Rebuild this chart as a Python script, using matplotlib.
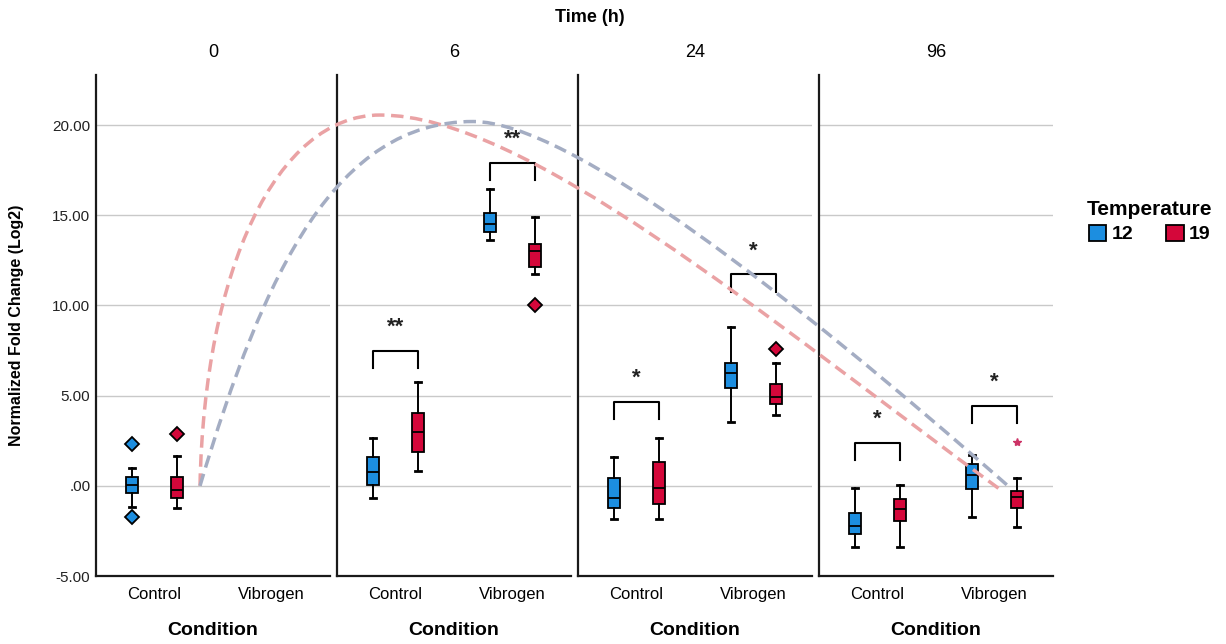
import matplotlib
matplotlib.use("Agg")
import matplotlib.pyplot as plt
from matplotlib.patches import Patch, PathPatch
from matplotlib.path import Path

plt.rcParams['font.family'] = ['Liberation Sans', 'DejaVu Sans']

# categories
times = ['0', '6', '24', '96']
conditions = ['Control', 'Vibrogen']
temps = ['12', '19']
colors = {'12': '#1c8ee0', '19': '#d4073a'}

# box stats, order: (0,Control) (0,Vibrogen) (6,Control) (6,Vibrogen) (24,...) (96,...)
# None = no data for that group
whislo_12 = [-1.17, None, -0.67, 13.61, -1.83, 3.56, -3.40, -1.72]
q1_12 = [-0.39, None, 0.06, 14.06, -1.22, 5.44, -2.67, -0.17]
med_12 = [0.05, None, 0.78, 14.50, -0.67, 6.28, -2.22, 0.61]
q3_12 = [0.50, None, 1.61, 15.11, 0.44, 6.83, -1.50, 1.22]
whishi_12 = [1.00, None, 2.67, 16.44, 1.61, 8.78, -0.11, 1.72]
fliers_12 = [[2.33, -1.72], [], [], [], [], [], [], []]

whislo_19 = [-1.22, None, 0.83, 11.72, -1.83, 3.94, -3.40, -2.28]
q1_19 = [-0.67, None, 1.89, 12.11, -1.00, 4.56, -1.94, -1.22]
med_19 = [-0.22, None, 3.00, 13.00, -0.11, 4.94, -1.28, -0.61]
q3_19 = [0.50, None, 4.06, 13.39, 1.33, 5.67, -0.72, -0.28]
whishi_19 = [1.67, None, 5.78, 14.89, 2.67, 6.83, 0.06, 0.44]
fliers_19 = [[2.89], [], [], [10.0], [], [7.61], [], []]
extremes_19 = [[], [], [], [], [], [], [], [2.44]]

# significance brackets: (time index, condition index, bracket top, label)
sig_time = [1, 1, 2, 2, 3, 3]
sig_cond = [0, 1, 0, 1, 0, 1]
sig_top = [7.5, 17.9, 4.67, 11.72, 2.39, 4.44]
sig_label = ['**', '**', '*', '*', '*', '*']

# hand-drawn trend curves as two cubic bezier pieces each
# (x in panel units 0..4, y in log2 fold change)
curve_red_x = [0.432, 0.45, 0.75, 1.18, 1.78, 2.763, 3.763]
curve_red_y = [0.0, 12.0, 20.56, 20.56, 20.56, 9.52, -0.28]
curve_blue_x = [0.432, 0.70, 1.00, 1.566, 1.966, 2.888, 3.788]
curve_blue_y = [0.0, 12.0, 20.2, 20.2, 20.2, 10.53, 0.0]

W, H = 1226, 644
fig = plt.figure(figsize=(W / 100, H / 100), dpi=100)

ymin, ymax = -5, 22.78
ax_bottom = 1 - 576 / H
ax_height = (576 - 75) / H
panel_left = [96, 337, 578, 819]
panel_w = 234
offset = 0.19

for ti, t in enumerate(times):
    ax = fig.add_axes([panel_left[ti] / W, ax_bottom, panel_w / W, ax_height])

    for ci in range(2):
        k = ti * 2 + ci
        groups = [
            ('12', -offset, whislo_12, q1_12, med_12, q3_12, whishi_12, fliers_12),
            ('19', offset, whislo_19, q1_19, med_19, q3_19, whishi_19, fliers_19),
        ]
        for temp, off, wl, q1, md, q3, wh, fl in groups:
            if md[k] is None:
                continue
            stats = [{'whislo': wl[k], 'q1': q1[k], 'med': md[k], 'q3': q3[k],
                      'whishi': wh[k], 'fliers': fl[k]}]
            ax.bxp(stats, positions=[ci + off], widths=0.1, capwidths=0.05,
                   patch_artist=True, showfliers=True, manage_ticks=False,
                   boxprops=dict(facecolor=colors[temp], edgecolor='black', linewidth=1.3),
                   medianprops=dict(color='black', linewidth=1.3),
                   whiskerprops=dict(color='black', linewidth=1.4),
                   capprops=dict(color='black', linewidth=2),
                   flierprops=dict(marker='D', markersize=7, markerfacecolor=colors[temp],
                                   markeredgecolor='black', markeredgewidth=1.3))
        if extremes_19[k]:
            ax.plot([ci + offset] * len(extremes_19[k]), extremes_19[k], marker='*',
                    linestyle='none', color='#cc3366', markersize=6)

    for si in range(len(sig_time)):
        if sig_time[si] != ti:
            continue
        c = sig_cond[si]
        top = sig_top[si]
        ax.plot([c - offset, c - offset, c + offset, c + offset],
                [top - 0.95, top, top, top - 0.95], color='black', linewidth=1.5)
        ax.text(c, top + 1.3, sig_label[si], ha='center', va='center',
                fontsize=16, fontweight='bold', color='#222222')

    ax.set_xlim(-0.5, 1.5)
    ax.set_ylim(ymin, ymax)
    ax.set_yticks([-5, 0, 5, 10, 15, 20])
    ax.grid(axis='y', color='#c9c9c9', linewidth=1)
    ax.set_axisbelow(True)
    for s in ['top', 'right']:
        ax.spines[s].set_visible(False)
    for s in ['left', 'bottom']:
        ax.spines[s].set_linewidth(1.6)
        ax.spines[s].set_color('#1a1a1a')
    ax.tick_params(length=0, labelsize=11, pad=8)
    ax.set_xticks([0, 1])
    ax.set_xticklabels(conditions, fontsize=12)
    ax.set_xlabel('Condition', fontsize=14, fontweight='bold', labelpad=14)
    ax.set_title(t, fontsize=13, pad=13)
    if ti == 0:
        ax.set_yticklabels(['-5.00', '.00', '5.00', '10.00', '15.00', '20.00'],
                           fontsize=11, color='#222222')
        ax.tick_params(axis='y', pad=4)
    else:
        ax.set_yticklabels([])

# overlay for the trend curves spanning all panels
ax_o = fig.add_axes([96 / W, ax_bottom, (1059 - 96) / W, ax_height])
ax_o.set_xlim(0, 4)
ax_o.set_ylim(ymin, ymax)
ax_o.axis('off')
codes = [Path.MOVETO] + [Path.CURVE4] * 6
for cx, cy, col in [(curve_red_x, curve_red_y, '#eaa2a4'),
                    (curve_blue_x, curve_blue_y, '#a4adc3')]:
    path = Path(list(zip(cx, cy)), codes)
    ax_o.add_patch(PathPatch(path, facecolor='none', edgecolor=col, linewidth=2.5,
                             linestyle=(0, (3.6, 1.9))))

fig.text(17 / W, 1 - 325 / H, 'Normalized Fold Change (Log2)', rotation=90,
         ha='center', va='center', fontsize=11.5, fontweight='bold')
fig.text(590 / W, 1 - 17 / H, 'Time (h)', ha='center', va='center',
         fontsize=13, fontweight='bold')

handles = [Patch(facecolor=colors[t], edgecolor='black', linewidth=1.3, label=t) for t in temps]
fig.legend(handles=handles, title='Temperature', ncol=2, loc='upper left',
           bbox_to_anchor=(1077 / W, 1 - 190 / H), frameon=False,
           prop={'weight': 'bold', 'size': 14},
           title_fontproperties={'weight': 'bold', 'size': 15},
           handlelength=0.9, handleheight=0.9, handletextpad=0.25, columnspacing=1.7,
           borderpad=0, labelspacing=0.3)

fig.savefig('out.png', dpi=100)
